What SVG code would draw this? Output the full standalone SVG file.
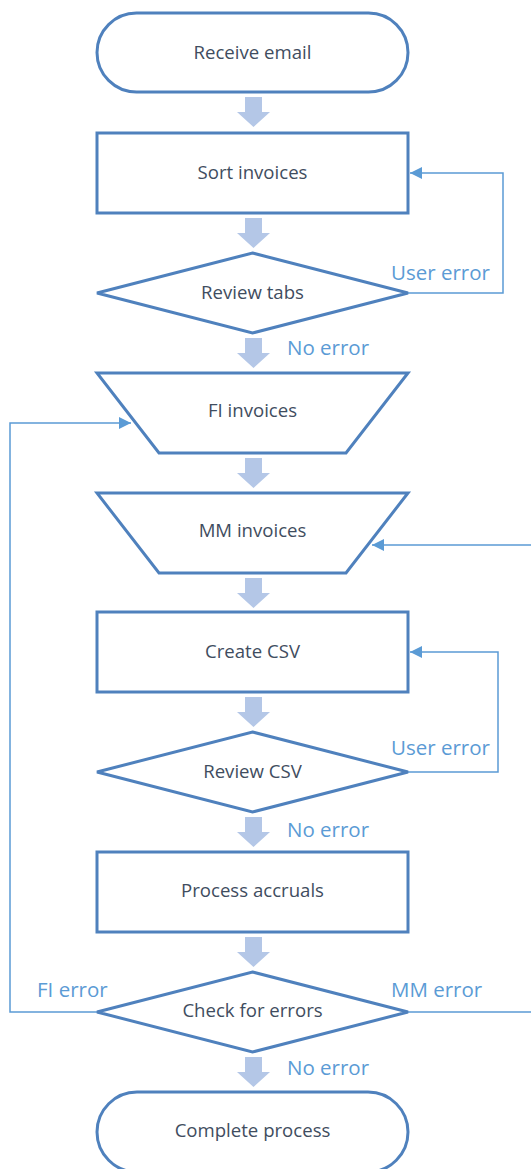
<svg xmlns="http://www.w3.org/2000/svg" width="531" height="1169" viewBox="0 0 531 1169">
<defs>
<style>
.node{fill:#fff;stroke:#4f81bd;stroke-width:3}
.nt{font-family:"Open Sans","Liberation Sans",sans-serif;font-size:18.6px;fill:#3f4d60;text-anchor:middle}
.lb{font-family:"Open Sans","Liberation Sans",sans-serif;font-size:20.5px;fill:#5b9bd5}
.con{fill:none;stroke:#5b9bd5;stroke-width:1.5}
.blk{fill:#b4c7e7}
</style>
<marker id="ah" viewBox="0 0 10 10" refX="10" refY="5" markerWidth="12" markerHeight="12" markerUnits="userSpaceOnUse" orient="auto">
<path d="M0,0 L10,5 L0,10 z" fill="#5b9bd5"/>
</marker>
<path id="barrow" d="M-8.5,0 H8.5 V15 H16.5 L0,30 L-16.5,15 H-8.5 z"/>
</defs>
<rect width="531" height="1169" fill="#fff"/>
<g id="connectors">
<use href="#barrow" class="blk" x="253.5" y="97"/>
<use href="#barrow" class="blk" x="253.5" y="218"/>
<use href="#barrow" class="blk" x="253.5" y="338"/>
<use href="#barrow" class="blk" x="253.5" y="458"/>
<use href="#barrow" class="blk" x="253.5" y="578"/>
<use href="#barrow" class="blk" x="253.5" y="697"/>
<use href="#barrow" class="blk" x="253.5" y="817"/>
<use href="#barrow" class="blk" x="253.5" y="937"/>
<use href="#barrow" class="blk" x="253.5" y="1057"/>
<polyline class="con" points="408,293 503,293 503,173 410,173" marker-end="url(#ah)"/>
<polyline class="con" points="408,772 498,772 498,652 410,652" marker-end="url(#ah)"/>
<polyline class="con" points="97,1012 10,1012 10,423 131,423" marker-end="url(#ah)"/>
<polyline class="con" points="408,1012 534,1012 534,545 372,545" marker-end="url(#ah)"/>
<text class="lb" x="391" y="280">User error</text>
<text class="lb" x="287" y="355">No error</text>
<text class="lb" x="391" y="755">User error</text>
<text class="lb" x="287" y="837">No error</text>
<text class="lb" x="37" y="997">FI error</text>
<text class="lb" x="391" y="997">MM error</text>
<text class="lb" x="287" y="1075">No error</text>
</g>
<g id="receive-email">
<rect class="node" x="97" y="13" width="311" height="79" rx="39.5"/>
<text class="nt" x="252.5" y="58.5">Receive email</text>
</g>
<g id="sort-invoices">
<rect class="node" x="97" y="133" width="311" height="80"/>
<text class="nt" x="252.5" y="179">Sort invoices</text>
</g>
<g id="review-tabs">
<polygon class="node" points="252.5,253 408,293 252.5,333 97,293"/>
<text class="nt" x="252.5" y="299">Review tabs</text>
</g>
<g id="fi-invoices">
<polygon class="node" points="97,373 408,373 346,453 159,453"/>
<text class="nt" x="252.5" y="417">FI invoices</text>
</g>
<g id="mm-invoices">
<polygon class="node" points="97,493 408,493 346,573 159,573"/>
<text class="nt" x="252.5" y="537">MM invoices</text>
</g>
<g id="create-csv">
<rect class="node" x="97" y="612" width="311" height="80"/>
<text class="nt" x="252.5" y="658">Create CSV</text>
</g>
<g id="review-csv">
<polygon class="node" points="252.5,732 408,772 252.5,812 97,772"/>
<text class="nt" x="252.5" y="778">Review CSV</text>
</g>
<g id="process-accruals">
<rect class="node" x="97" y="852" width="311" height="80"/>
<text class="nt" x="252.5" y="897">Process accruals</text>
</g>
<g id="check-for-errors">
<polygon class="node" points="252.5,972 408,1012 252.5,1052 97,1012"/>
<text class="nt" x="252.5" y="1017">Check for errors</text>
</g>
<g id="complete-process">
<rect class="node" x="97" y="1092" width="311" height="80" rx="40"/>
<text class="nt" x="252.5" y="1137">Complete process</text>
</g>
</svg>
